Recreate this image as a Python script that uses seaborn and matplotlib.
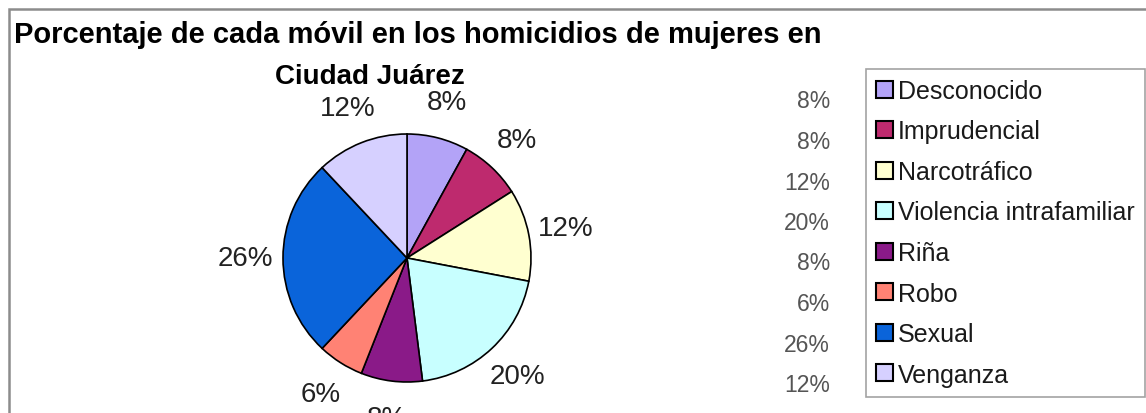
import matplotlib.pyplot as plt
import matplotlib.patches as patches
import seaborn as sns

# datos del grafico
moviles = ['Desconocido', 'Imprudencial', 'Narcotráfico', 'Violencia intrafamiliar',
           'Riña', 'Robo', 'Sexual', 'Venganza']
porcentajes = [8, 8, 12, 20, 8, 6, 26, 12]
colores = ['#B3A3F7', '#BE2A6E', '#FFFFD0', '#C8FFFF',
           '#8A1A88', '#FF8274', '#0A64DA', '#D6D0FF']
titulo_1 = 'Porcentaje de cada móvil en los homicidios de mujeres en'
titulo_2 = 'Ciudad Juárez'

sns.set_theme(style="white")
plt.rcParams['font.family'] = ['Liberation Sans', 'DejaVu Sans']

W, H = 1146, 414
fig = plt.figure(figsize=(W / 100, H / 100), dpi=100)
fig.patch.set_facecolor('white')

# marco exterior
fig.add_artist(patches.Rectangle((9 / W, -0.1), 1.1, 1 - 10 / H + 0.1, transform=fig.transFigure,
                                 fill=False, edgecolor='#8c8c8c', linewidth=1.8))

# pastel
cx, cy, r = 407, 259, 124
ax = fig.add_axes([(cx - r) / W, (H - cy - r) / H, 2 * r / W, 2 * r / H])
wedges, _, autotexts = ax.pie(porcentajes, colors=sns.color_palette(colores), startangle=90,
                              counterclock=False, autopct='%1.0f%%', pctdistance=1.3,
                              wedgeprops=dict(edgecolor='black', linewidth=1.2),
                              textprops=dict(fontsize=20, color='#222222'))
ax.set_xlim(-1, 1)
ax.set_ylim(-1, 1)
ax.axis('off')

fig.text(14 / W, 1 - 35 / H, titulo_1, fontsize=21, fontweight='bold', ha='left', va='center',
         color='black')
fig.text(370 / W, 1 - 77 / H, titulo_2, fontsize=20, fontweight='bold', ha='center', va='center',
         color='black')

# leyenda
leg = fig.legend(wedges, moviles, loc='upper right', bbox_to_anchor=(1145 / W, 1 - 70 / H),
                 frameon=True, fancybox=False, edgecolor='#8c8c8c', fontsize=18,
                 handlelength=0.68, handleheight=0.68, handletextpad=0.2,
                 labelspacing=0.66, borderpad=0.4, borderaxespad=0)
leg.get_frame().set_linewidth(1.2)
for t in leg.get_texts():
    t.set_color('#1a1a1a')
for h in leg.legend_handles:
    h.set_edgecolor('black')
    h.set_linewidth(1.5)

# columna de porcentajes junto a la leyenda
fig.canvas.draw()
inv = fig.transFigure.inverted()
for t, v in zip(leg.get_texts(), porcentajes):
    bb = t.get_window_extent()
    y = inv.transform((0, (bb.y0 + bb.y1) / 2 - 10))[1]
    fig.text(830 / W, y, f'{v}%', fontsize=16.5, color='#555555', ha='right', va='center')

plt.savefig('out.png', dpi=100)
